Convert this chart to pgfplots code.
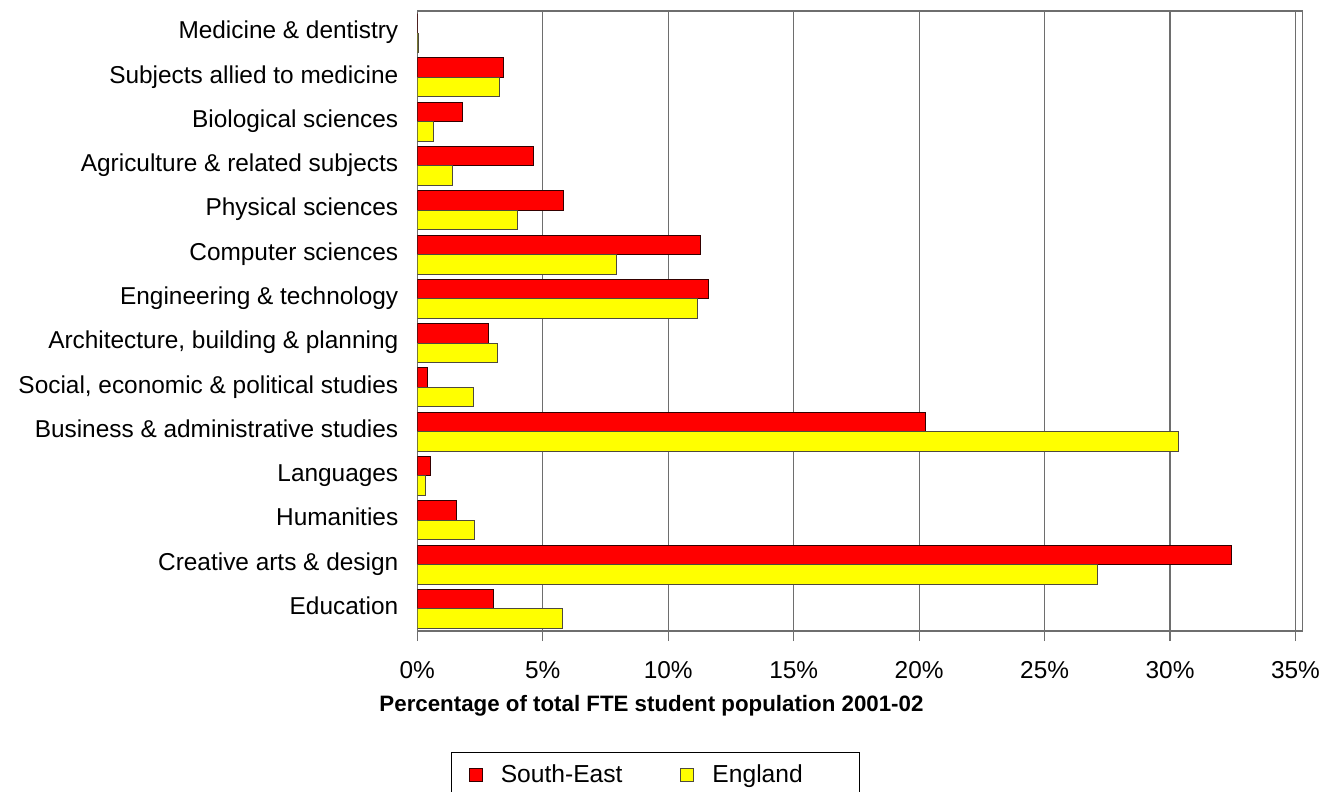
\documentclass[border=0pt]{standalone}
\usepackage{fontspec}
\setmainfont{Liberation Sans}
\usepackage{pgfplots}
\usepackage{pgfplotstable}
\pgfplotsset{compat=1.18}

% idx 0 = bottom row (Education)
\pgfplotstableread{
idx se    eng
0   3.03  5.78
1   32.45 27.10
2   1.58  2.29
3   0.51  0.32
4   20.24 30.32
5   0.39  2.22
6   2.83  3.20
7   11.62 11.16
8   11.29 7.93
9   5.82  3.98
10  4.64  1.39
11  1.81  0.64
12  3.43  3.27
13  0     0.03
}\shares

\definecolor{seRed}{RGB}{255,0,0}
\definecolor{engYellow}{RGB}{255,255,0}
\definecolor{gridGray}{RGB}{110,110,110}

\begin{document}
\begin{tikzpicture}
\begin{axis}[
    name=ax,
    scale only axis,
    width=442.5pt,
    height=310pt,
    xmin=0, xmax=35.27,
    ymin=-0.5, ymax=13.5,
    xbar,
    bar width=9.75pt,
    xtick={0,5,...,35},
    xticklabels={0\%,5\%,10\%,15\%,20\%,25\%,30\%,35\%},
    xtick pos=bottom,
    xtick align=outside,
    major tick length=5pt,
    xtick style={gridGray, line width=0.6pt},
    xticklabel shift=5.5pt,
    ytick={0,...,13},
    yticklabels={Education,Creative arts \& design,Humanities,Languages,
      Business \& administrative studies,Social{,} economic \& political studies,
      Architecture{,} building \& planning,Engineering \& technology,
      Computer sciences,Physical sciences,Agriculture \& related subjects,
      Biological sciences,Subjects allied to medicine,Medicine \& dentistry},
    ytick style={draw=none},
    yticklabel shift=1pt,
    typeset ticklabels with strut,
    ticklabel style={font=\fontsize{12.2}{14}\selectfont},
    xmajorgrids=true,
    major grid style={gridGray, line width=0.6pt},
    axis line style={gridGray, line width=0.6pt},
    xlabel={\textbf{Percentage of total FTE student population 2001-02}},
    xlabel style={font=\fontsize{11.15}{13}\selectfont, at={(axis description cs:0.2646,-0.121)}, anchor=center},
    legend columns=2,
    legend style={at={(axis description cs:0.0384,-0.195)}, anchor=north west,
      draw=black, line width=0.5pt, font=\fontsize{12.3}{14}\selectfont,
      inner xsep=8.5pt, inner ysep=4pt,
      /tikz/every odd column/.append style={column sep=7pt},
      /tikz/every even column/.append style={column sep=27pt}},
    legend image code/.code={\draw[#1, line width=0.5pt] (0pt,-3.25pt) rectangle (6.5pt,3.25pt);},
    legend entries={South-East, England\hspace*{18pt}},
]
\addplot[fill=seRed, draw=black!80!red, line width=0.5pt, bar shift=4.875pt] table[x=se, y=idx] {\shares};
\addplot[fill=engYellow, draw=black!80!yellow, line width=0.5pt, bar shift=-4.875pt] table[x=eng, y=idx] {\shares};
\end{axis}
\pgfresetboundingbox
\path[use as bounding box] ([shift={(-208.65pt,-80.5pt)}]ax.south west) rectangle ([shift={(452.35pt,5.5pt)}]ax.north west);
\end{tikzpicture}
\end{document}
